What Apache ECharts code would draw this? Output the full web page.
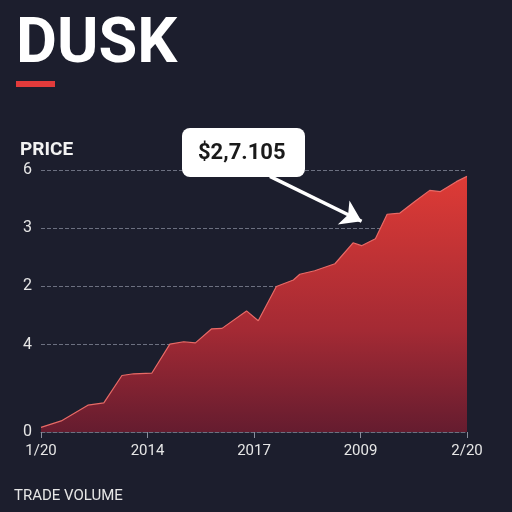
<!DOCTYPE html>
<html>
<head>
<meta charset="utf-8">
<title>DUSK</title>
<script src="https://cdn.jsdelivr.net/npm/echarts@6/dist/echarts.min.js"></script>
<style>
  html, body { margin: 0; padding: 0; background: #1c1e2d; }
  #main { width: 512px; height: 512px; }
</style>
</head>
<body>
<div id="main"></div>
<script>
// x positions (0..40 along the axis) and price values
var xs = [0, 1.9, 4.4, 5.9, 7.6, 8.7, 10.4, 12.1, 13.4, 14.5, 16.0, 17.0, 19.3, 20.4, 22.1, 23.7, 24.3, 25.7, 27.6, 29.3, 30.1, 31.4, 32.5, 33.7, 35.1, 36.5, 37.5, 39.0, 40];
var prices = [0.08, 0.19, 0.46, 0.50, 0.97, 1.00, 1.01, 1.51, 1.55, 1.53, 1.77, 1.78, 2.08, 1.91, 2.50, 2.61, 2.71, 2.77, 2.89, 3.25, 3.20, 3.32, 3.74, 3.76, 3.96, 4.15, 4.13, 4.30, 4.39];
var xTickLabels = ['1/20', '2014', '2017', '2009', '2/20'];
var yTickValues = [0, 1.5, 2.5, 3.5, 4.5];
var yTickLabels = ['0', '4', '2', '3', '6'];
var calloutText = '$2,7.105';
var arrowFrom = [21.5, 4.39];
var arrowTo = [30.1, 3.62];

var chart = echarts.init(document.getElementById('main'));

var seriesData = xs.map(function (x, i) { return [x, prices[i]]; });

chart.setOption({
  backgroundColor: '#1c1e2d',
  animation: false,
  grid: { left: 41, right: 45, top: 170, bottom: 80 },
  title: [
    {
      text: 'DUSK', left: 11, top: 10,
      textStyle: { color: '#ffffff', fontSize: 63, fontWeight: 'bold', fontFamily: 'Roboto' }
    },
    {
      text: 'PRICE', left: 15, top: 136,
      textStyle: { color: '#f2f2f2', fontSize: 19, fontWeight: 'bold', fontFamily: 'Roboto' }
    },
    {
      text: 'TRADE VOLUME', left: 9, top: 484,
      textStyle: { color: '#e6e6e6', fontSize: 15, fontWeight: 'normal', fontFamily: 'Roboto' }
    }
  ],
  graphic: [
    {
      type: 'rect', left: 16, top: 81,
      shape: { width: 39, height: 6 },
      style: { fill: '#e23b3b' }
    },
    {
      type: 'rect', left: 182, top: 128, z: 10,
      shape: { width: 123, height: 49, r: 8 },
      style: { fill: '#ffffff' }
    },
    {
      type: 'text', left: 198, top: 142, z: 11,
      style: { text: calloutText, fill: '#1a1a1a', fontSize: 22, fontWeight: 'bold', fontFamily: 'Roboto' }
    }
  ],
  xAxis: {
    type: 'value', min: 0, max: 40, interval: 10,
    axisLine: { show: true, lineStyle: { color: '#6c7080', type: 'dashed', width: 1 } },
    axisTick: { show: true, length: 6, lineStyle: { color: '#8a8e9c' } },
    axisLabel: {
      color: '#e6e6e6', fontSize: 15, margin: 12, fontFamily: 'Roboto',
      formatter: function (v) { return xTickLabels[Math.round(v / 10)]; }
    },
    splitLine: { show: false }
  },
  yAxis: {
    type: 'value', min: 0, max: 4.5,
    axisLine: { show: false },
    axisTick: { show: false, customValues: yTickValues },
    axisLabel: {
      customValues: yTickValues,
      color: '#e6e6e6', fontSize: 16, margin: 9, fontFamily: 'Roboto',
      formatter: function (v) {
        var i = yTickValues.indexOf(v);
        return i >= 0 ? yTickLabels[i] : '';
      }
    },
    splitLine: { show: true, lineStyle: { color: '#6c7080', type: 'dashed', width: 1 } }
  },
  series: [{
    type: 'line',
    data: seriesData,
    symbol: 'none',
    lineStyle: { color: '#e86a66', width: 1.2 },
    areaStyle: {
      opacity: 1,
      color: new echarts.graphic.LinearGradient(0, 0, 0, 1, [
        { offset: 0, color: '#de3b36' },
        { offset: 0.6, color: '#a42a34' },
        { offset: 1, color: '#651c2f' }
      ])
    },
    markLine: {
      silent: true,
      symbol: ['none', 'arrow'],
      symbolSize: 20,
      label: { show: false },
      lineStyle: { color: '#ffffff', width: 3.5, type: 'solid', opacity: 1 },
      data: [[{ coord: arrowFrom }, { coord: arrowTo }]]
    }
  }]
});
</script>
</body>
</html>
